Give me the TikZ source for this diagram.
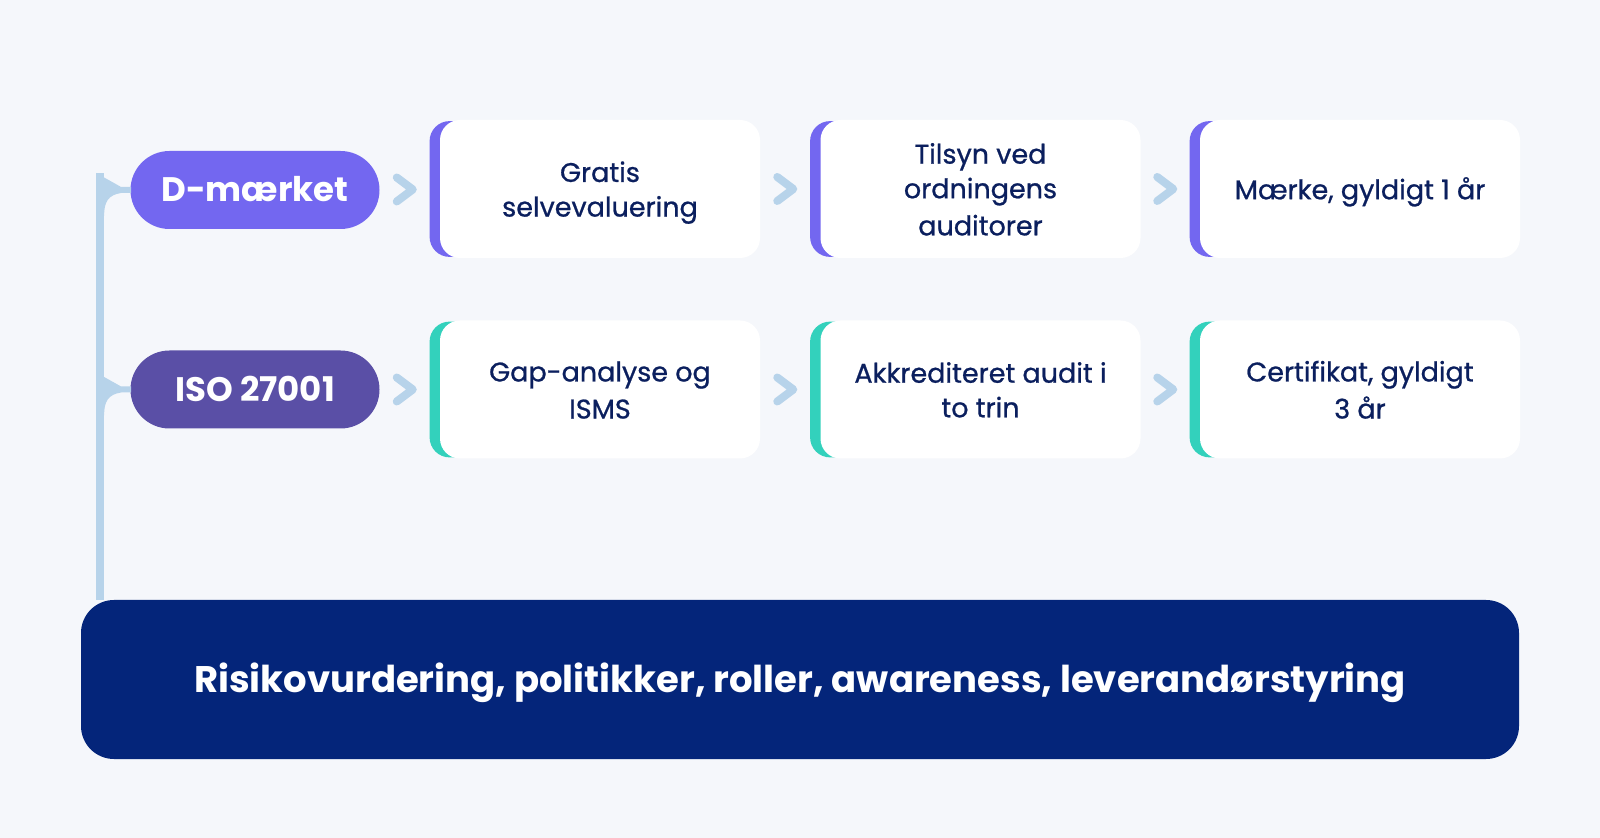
\documentclass[tikz,border=0pt]{standalone}
\usepackage{fontspec}
\setmainfont{Poppins}
\newfontfamily\medfont{Poppins}[FakeBold=0.8]
\usetikzlibrary{calc,backgrounds}
\definecolor{bgc}{HTML}{F5F7FB}
\definecolor{linec}{HTML}{B7D3EA}
\definecolor{pilla}{HTML}{7367F0}
\definecolor{pillb}{HTML}{5A4FA6}
\definecolor{tealc}{HTML}{33D1BC}
\definecolor{navyt}{HTML}{0B1F5E}
\definecolor{navyb}{HTML}{04257A}
\newcommand\bs{\rule[-3.4pt]{0pt}{17.3pt}}
\newcommand\pillstrut{\rule[-2.8pt]{0pt}{17.3pt}}
\newcommand\basestrut{\rule[-4.5pt]{0pt}{22.5pt}}
\tikzset{
  pill/.style={rounded corners=19.5pt, minimum width=124.5pt, minimum height=39pt,
    inner sep=0pt, text=white, font=\fontsize{17}{20}\selectfont\bfseries},
  stepbox/.style={fill=white, rounded corners=10pt, minimum width=160pt, minimum height=69pt,
    inner sep=0pt, align=center, text=navyt, font=\medfont\fontsize{13.5}{17.3}\selectfont},
  chev/.style={draw=linec, line width=4pt, line cap=round, line join=round},
  basebox/.style={fill=navyb, rounded corners=16.5pt, minimum width=719pt, minimum height=79.5pt,
    inner sep=0pt, text=white, font=\fontsize{18.5}{22}\selectfont\bfseries},
}
\begin{document}
\begin{tikzpicture}[x=0.5pt,y=-0.5pt]
\useasboundingbox (0,0) rectangle (1600,838);
\begin{scope}[on background layer]
  \fill[bgc] (0,0) rectangle (1600,838);
\end{scope}

% pills
\node[pill, fill=pilla] (dm) at (255,190) {\pillstrut D-mærket};
\node[pill, fill=pillb] (iso) at (255,389.5) {\pillstrut ISO 27001};

% step boxes (white part)
\node[stepbox] (a1) at (600,189) {\bs Gratis\\selvevaluering\bs};
\node[stepbox] (a2) at (980.5,189) {\bs Tilsyn ved\\ordningens\\auditorer\bs};
\node[stepbox] (a3) at (1360,189) {\bs Mærke, gyldigt 1 år\bs};
\node[stepbox] (b1) at (600,389.5) {\bs Gap-analyse og\\ISMS\bs};
\node[stepbox] (b2) at (980.5,389.5) {\bs Akkrediteret audit i\\to trin\bs};
\node[stepbox] (b3) at (1360,389.5) {\bs Certifikat, gyldigt\\3 år\bs};

% coloured left edges
\begin{scope}[on background layer]
  \foreach \n in {a1,a2,a3}
    \fill[pilla, rounded corners=10pt] ($(\n.south west)+(-10,-1.5)$) rectangle ($(\n.north east)+(-10,1.5)$);
  \foreach \n in {b1,b2,b3}
    \fill[tealc, rounded corners=10pt] ($(\n.south west)+(-10,-1.5)$) rectangle ($(\n.north east)+(-10,1.5)$);
\end{scope}

% base box
\node[basebox] (bot) at (800,679.5) {\basestrut Risikovurdering, politikker, roller, awareness, leverandørstyring};

% chevrons
\foreach \p/\q in {dm/a1, a1/a2, a2/a3, iso/b1, b1/b2, b2/b3} {
  \coordinate (m) at ($(\p.east)!0.5!(\q.west)+(-5,0)$);
  \draw[chev] ($(m)+(-8,-12)$) -- ($(m)+(8,0)$) -- ($(m)+(-8,12)$);
}

% tree connector
\coordinate (vr) at ($(dm.west)+(-26,0)$);
\fill[linec] ($(dm.west)+(-34,-17)$) rectangle (vr |- bot.north);
\foreach \n in {dm, iso}
  \fill[linec] ($(\n.west)+(-34,-17)$) -- ($(\n.west)+(-9,-3)$) -- ($(\n.west)+(1,-3)$)
    -- ($(\n.west)+(1,3)$) -- ($(\n.west)+(-9,3)$)
    .. controls ($(\n.west)+(-22,5)$) and ($(\n.west)+(-26,12)$) .. ($(\n.west)+(-26,26)$)
    -- ($(\n.west)+(-34,26)$) -- cycle;
\end{tikzpicture}
\end{document}
